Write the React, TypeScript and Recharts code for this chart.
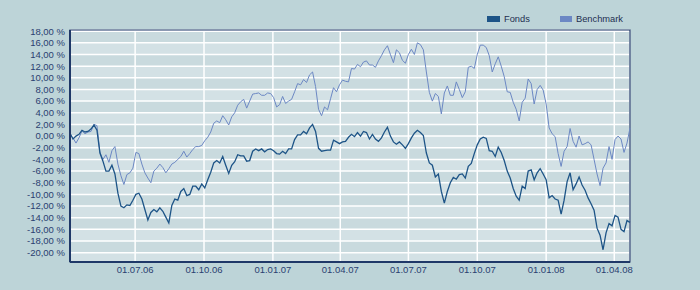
import React from "react";
import { LineChart, Line, XAxis, YAxis, CartesianGrid, ReferenceArea } from "recharts";

// Sampling: one point every 4 days starting 05.04.2006
const START_DATE = "2006-04-05";
const STEP_DAYS = 4;

const fonds: number[] = [
  0.5, -0.5, 0.0, 0.3, 1.0, 0.7, 0.8, 1.2, 1.9, 1.0,
  -2.9, -4.3, -6.0, -6.0, -5.0, -6.5, -9.8, -12.0, -12.3, -11.8,
  -11.9, -11.0, -10.0, -9.8, -10.8, -12.6, -14.4, -13.1, -12.6, -13.0,
  -12.3, -12.9, -13.9, -14.9, -11.9, -10.8, -11.0, -9.5, -9.0, -10.2,
  -10.0, -8.6, -8.6, -9.2, -8.2, -8.9, -7.5, -6.2, -4.6, -4.2,
  -4.6, -3.5, -5.0, -6.4, -5.0, -4.4, -3.2, -3.4, -3.4, -4.3,
  -4.2, -2.6, -2.2, -2.5, -2.2, -2.7, -2.3, -2.2, -2.5, -3.0,
  -3.1, -2.6, -3.0, -2.2, -2.2, -0.6, 0.2, 0.2, 0.8, 0.4,
  1.4, 2.0, 0.8, -2.1, -2.6, -2.5, -2.4, -2.4, -0.7, -1.0,
  -1.3, -1.0, -0.9, -0.2, 0.3, -0.1, 0.6, 0.0, 0.8, 0.6,
  -0.5, 0.3, -0.5, -0.9, -0.3, 0.7, 1.5, 0.0, -1.0, -1.4,
  -1.0, -1.5, -2.1, -1.3, -0.3, 0.5, 1.0, 0.6, 0.1, -2.9,
  -4.6, -5.0, -7.0, -6.5, -9.5, -11.5, -9.5, -8.0, -7.1, -7.4,
  -6.6, -6.5, -7.2, -5.2, -4.7, -3.0, -1.5, -0.5, -0.2, -0.4,
  -2.5, -2.6, -3.5, -1.9, -2.8, -4.2, -6.0, -7.2, -9.0, -10.3,
  -11.0, -8.6, -9.0, -6.0, -5.8, -7.5, -6.3, -5.6, -6.5, -7.5,
  -10.6, -10.2, -10.8, -11.0, -13.4, -11.0, -7.8, -6.3, -9.2, -8.2,
  -7.0, -8.4, -9.3, -10.6, -11.6, -12.7, -15.8, -17.0, -19.5, -16.6,
  -15.0, -15.4, -13.6, -13.9, -16.0, -16.4, -14.5, -14.8,
];

const benchmark: number[] = [
  0.2, -0.3, -1.2, -0.3, 0.9, 0.4, 0.7, 0.8, 2.0, 1.8,
  -2.8, -4.0, -3.2, -4.5, -2.5, -1.8, -4.8, -6.8, -8.3, -6.6,
  -6.3, -5.5, -2.8, -3.0, -4.8, -6.3, -7.2, -8.0, -6.0, -5.5,
  -4.8, -5.4, -6.3, -5.6, -4.8, -4.5, -4.0, -3.5, -2.6, -3.6,
  -3.0, -2.3, -1.8, -1.8, -1.6, -0.8, -0.2, 0.7, 2.2, 2.6,
  2.3, 3.5, 2.8, 1.9, 3.3, 4.0, 5.3, 5.9, 6.3, 4.8,
  6.0, 7.2, 7.3, 7.4, 7.0, 7.0, 7.4, 7.3, 6.6, 5.0,
  5.4, 6.8, 5.6, 6.0, 6.3, 7.6, 9.0, 8.8, 9.7, 9.2,
  10.5, 11.0, 8.5, 4.6, 3.5, 5.0, 4.5, 6.4, 8.3, 7.6,
  8.8, 9.6, 9.4, 9.3, 11.6, 11.5, 12.3, 11.9, 12.7, 12.9,
  12.2, 12.2, 11.8, 12.9, 13.8, 14.8, 15.5, 14.0, 12.6, 14.8,
  14.3, 13.0, 12.5, 14.0, 14.9, 14.0, 16.0, 15.7, 14.8, 11.0,
  7.5, 6.0, 7.3, 6.8, 3.8, 7.4, 8.6, 7.0, 7.0, 9.3,
  8.0, 6.6, 7.6, 11.8, 12.0, 11.6, 14.0, 15.6, 15.6, 15.2,
  13.8, 11.0, 12.4, 13.6, 12.0, 10.2, 7.6, 7.5, 5.8, 4.6,
  2.6, 5.8, 6.5, 9.8, 9.0, 5.5, 8.0, 8.7, 7.9, 5.5,
  1.4, 0.4, -0.1, -3.0, -5.2, -2.6, -1.8, 1.3, -0.9, -1.9,
  0.0, -1.5, -1.3, -1.0, -1.5, -4.0, -6.5, -8.5, -5.5, -4.6,
  -1.8, -4.0, -0.6, 0.0, -0.5, -2.8, -1.2, 1.4,
];

const tickDates = ["2006-07-01", "2006-10-01", "2007-01-01", "2007-04-01", "2007-07-01", "2007-10-01", "2008-01-01", "2008-04-01"];
const tickLabels = ["01.07.06", "01.10.06", "01.01.07", "01.04.07", "01.07.07", "01.10.07", "01.01.08", "01.04.08"];
const yTicks = [18, 16, 14, 12, 10, 8, 6, 4, 2, 0, -2, -4, -6, -8, -10, -12, -14, -16, -18, -20];
const seriesNames = ["Fonds", "Benchmark"];

const DAY = 86400000;
const t0 = Date.parse(START_DATE + "T00:00:00Z");
const data = fonds.map((f, i) => ({ t: t0 + i * STEP_DAYS * DAY, fonds: f, benchmark: benchmark[i] }));
const xTicks = tickDates.map((d) => Date.parse(d + "T00:00:00Z"));
const xMin = data[0].t;
const xMax = data[data.length - 1].t;
const Y_MIN = -21.6;
const Y_MAX = 18.2;

const FONT = '"Liberation Sans", Arial, sans-serif';
const TEXT = "#2a4070";
const NAVY = "#1f3868";
const C_FONDS = "#1d5487";
const C_BENCH = "#6c88c4";

const fmtY = (v: number) => v.toFixed(2).replace(".", ",") + " %";
const fmtX = (v: number) => {
  const i = xTicks.indexOf(v);
  return i >= 0 ? tickLabels[i] : "";
};

export default function App() {
  return (
    <div style={{ position: "fixed", left: 0, top: 0, width: 700, height: 290, background: "#bdd4d8", overflow: "hidden" }}>
      <div style={{ position: "absolute", left: 487, top: 16, width: 13, height: 6, background: C_FONDS }} />
      <div style={{ position: "absolute", left: 504, top: 13, fontFamily: FONT, fontSize: 9.3, lineHeight: "12px", color: "#1e2f50" }}>{seriesNames[0]}</div>
      <div style={{ position: "absolute", left: 560, top: 16, width: 12, height: 6, background: C_BENCH }} />
      <div style={{ position: "absolute", left: 576, top: 13, fontFamily: FONT, fontSize: 9.3, lineHeight: "12px", color: "#1e2f50" }}>{seriesNames[1]}</div>
      <LineChart width={700} height={290} data={data} margin={{ top: 30, right: 70, left: 0, bottom: 0 }} style={{ position: "absolute", left: 0, top: 0 }}>
        <CartesianGrid
          stroke="#ffffff"
          strokeWidth={1.5}
          horizontalFill={["#d3e1e5", "#c9dade"]}
          fillOpacity={1}
        />
        <XAxis
          dataKey="t"
          type="number"
          domain={[xMin, xMax]}
          ticks={xTicks}
          tickFormatter={fmtX}
          height={28}
          tickLine={false}
          tickSize={0}
          tickMargin={4}
          axisLine={{ stroke: NAVY, strokeWidth: 2 }}
          tick={{ fill: TEXT, fontSize: 9.5, fontFamily: FONT }}
          interval={0}
        />
        <YAxis
          type="number"
          domain={[Y_MIN, Y_MAX]}
          ticks={yTicks}
          tickFormatter={fmtY}
          width={70}
          tickLine={false}
          tickSize={0}
          tickMargin={5}
          axisLine={{ stroke: NAVY, strokeWidth: 2 }}
          tick={{ fill: TEXT, fontSize: 9.5, fontFamily: FONT }}
          interval={0}
          allowDataOverflow
        />
        <ReferenceArea x1={xMin} x2={xMax} y1={Y_MIN} y2={Y_MAX} fill="none" stroke={NAVY} strokeWidth={1.2} ifOverflow="visible" />
        <Line type="linear" dataKey="benchmark" stroke={C_BENCH} strokeWidth={1} dot={false} isAnimationActive={false} />
        <Line type="linear" dataKey="fonds" stroke={C_FONDS} strokeWidth={1.3} dot={false} isAnimationActive={false} />
      </LineChart>
    </div>
  );
}
